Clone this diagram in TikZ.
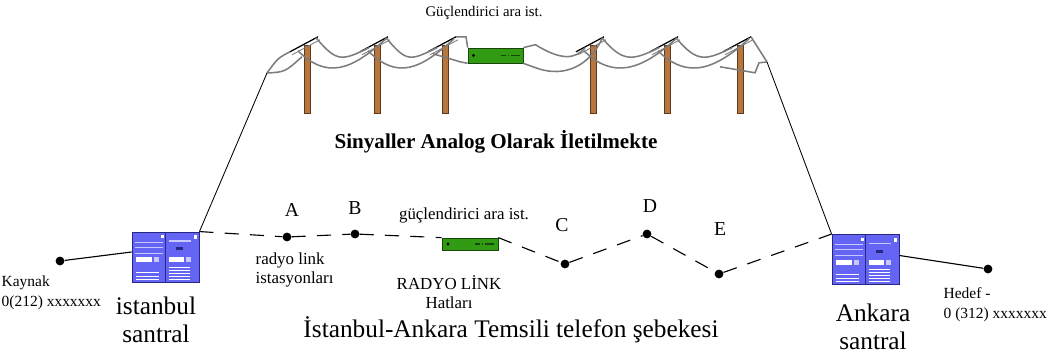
\documentclass[tikz,border=0pt]{standalone}
\usepackage{fontspec}
\setmainfont{Liberation Serif}
\usetikzlibrary{positioning,calc}
\definecolor{SantralMavi}{RGB}{100,100,245}
\definecolor{SantralKoyu}{RGB}{40,40,130}
\definecolor{SantralAcik}{RGB}{200,200,255}
\definecolor{KutuYesil}{RGB}{50,155,20}
\definecolor{KutuKoyu}{RGB}{25,70,10}
\definecolor{DirekKahve}{RGB}{182,118,62}
\definecolor{DirekKoyu}{RGB}{95,55,25}
\definecolor{TelGri}{RGB}{125,125,125}

\begin{document}
\begin{tikzpicture}[
  x=0.025cm, y=-0.025cm,
  every node/.style={align=center, inner sep=1pt},
  kucuk/.style={font=\fontsize{12}{14}\selectfont},
  uc/.style={font=\fontsize{11}{14}\selectfont, align=left, anchor=west},
  harf/.style={font=\fontsize{14}{16}\selectfont},
  buyuk/.style={font=\fontsize{18}{19.5}\selectfont},
  nokta/.style={circle, fill=black, inner sep=0pt, minimum size=0.22cm},
  santral/.style={rectangle, draw=SantralKoyu, fill=SantralMavi, line width=0.6pt,
    minimum width=1.675cm, minimum height=1.25cm, inner sep=0pt,
    path picture={
      \begin{scope}[shift={(path picture bounding box.center)}]
        \draw[SantralKoyu, line width=0.9pt] (0,-25) -- (0,25);
        % sol panel
        \foreach \v in {-15,-10,-4} \draw[SantralAcik, line width=0.5pt] (-31,\v) -- (-3,\v);
        \fill[white] (-30,0) rectangle (-14,5);
        \fill[SantralAcik] (-12,0) rectangle (-7,5);
        \foreach \v in {15,19,22} \draw[white, line width=0.6pt] (-30,\v) -- (-7,\v);
        \fill[white] (-5,-22) rectangle (-2,-19);
        % sag panel
        \draw[SantralAcik, line width=1pt] (3,-16) -- (25,-16);
        \fill[SantralKoyu] (10,-10) rectangle (17,-7);
        \fill[white] (3,0) rectangle (18,5);
        \fill[SantralAcik] (20,0) rectangle (25,5);
        \foreach \v in {10,13,16,19,22} \draw[white, line width=0.5pt] (3,\v) -- (24,\v);
        \fill[white] (28,-22) rectangle (31,-18);
      \end{scope}}},
  guc/.style={rectangle, draw=KutuKoyu, fill=KutuYesil, line width=0.5pt, inner sep=0pt,
    path picture={
      \begin{scope}[shift={(path picture bounding box.center)}]
        \fill[black] (-22,0) circle[radius=1.2pt];
        \draw[KutuKoyu, line width=1pt] (5,0) -- (10,0) (12,0) -- (13,0) (15,0) -- (24,0);
      \end{scope}}},
  direk/.style={rectangle, fill=DirekKahve, draw=DirekKoyu, line width=0.3pt,
    minimum width=0.15cm, minimum height=1.7cm, inner sep=0pt},
  tel/.style={draw=TelGri, line width=1.1pt},
  hat/.style={draw=black, line width=0.8pt},
  radyo/.style={hat, dash pattern=on 10pt off 8pt},
  ince/.style={draw=black, line width=0.6pt}
]
\useasboundingbox (0,0) rectangle (1049,354);

% direkler ve traversler
\foreach \px [count=\i] in {307,377,445,593,667,740}
  \node[direk] (d\i) at (\px,79) {};
\foreach \i in {1,...,6} {
  \draw[black, line width=0.9pt] ($(d\i.north)+(-17,7)$) -- ($(d\i.north)+(11,-8)$);
  \draw[TelGri, line width=0.6pt] ($(d\i.north)+(-15,10)$) -- ($(d\i.north)+(13,-5)$);
}

% havai hat
\node[guc, minimum width=1.375cm, minimum height=0.375cm] (gucust) at (495.5,55.5) {};
\coordinate (sol) at (267,73);
\coordinate (sag) at (767,62);
\foreach \a/\b in {1/2,2/3,4/5,5/6} {
  \draw[tel] ($(d\a.north)+(9,-7)$) .. controls ($(d\a.north)+(30,18)$) and ($(d\b.north)+(-35,16)$) .. ($(d\b.north)+(-8,3)$);
  \draw[tel] ($(d\a.north)+(-9,6)$) .. controls ($(d\a.north)+(20,35)$) and ($(d\b.north)+(-25,25)$) .. ($(d\b.north)+(9,-6)$);
}
\draw[tel] ($(d3.north)+(11,-8)$) -- ++(10,0) -- (gucust.north west);
\draw[tel] ($(d3.north)+(-12,9)$) -- ($(d3.north)+(15,17)$) -- (gucust.south west);
\draw[tel] (gucust.north east) -- ++(12,-3) .. controls (560,60) and (575,60) .. ($(d4.north)+(-8,3)$);
\draw[tel] (gucust.south east) -- ++(14,5) .. controls (565,78) and (590,65) .. ($(d4.north)+(9,-6)$);
\draw[tel] (sol) .. controls (278,58) .. ($(d1.north)+(-17,7)$);
\draw[tel] (sol) .. controls (285,72) .. ($(d1.north)+(-5,12)$);
\draw[tel] ($(d6.north)+(11,-8)$) -- (sag);
\draw[tel] ($(d6.north)+(-20,22)$) -- ($(d6.north)+(15,28)$) -- ($(d6.north)+(19,18)$) -- (sag);

\node (ustyazi) at (484,13) [font=\fontsize{10.5}{13}\selectfont] {Güçlendirici ara ist.};
\node (analog) at (496,142) [font=\bfseries\fontsize{15}{18}\selectfont] {Sinyaller Analog Olarak İletilmekte};

% santraller ve uclar
\node[santral] (ist) at (165.5,257) {};
\node[santral] (ank) at (865.5,259.5) {};
\node[nokta] (kaynak) at (60,261) {};
\node[nokta] (hedef) at (988,269) {};

% radyo link noktalari
\node[nokta] (ptA) at (287,237) {};
\node[nokta] (ptB) at (355,234) {};
\node[guc, minimum width=1.4cm, minimum height=0.3cm] (gucalt) at (470,244) {};
\node[nokta] (ptC) at (565,264) {};
\node[nokta] (ptD) at (647,234) {};
\node[nokta] (ptE) at (719,274) {};

\draw[hat] (kaynak) -- ([yshift=0.125cm]ist.west);
\draw[hat] ([yshift=0.1cm]ank.east) -- (hedef);
\draw[radyo] (ist.north east) -- (ptA) -- (ptB) -- (gucalt.north west);
\draw[radyo] (gucalt.north east) -- (ptC) -- (ptD) -- (ptE) -- (ank.north west);
\draw[ince] (ist.north east) -- (sol);
\draw[ince] (ank.north west) -- (sag);

% etiketler
\node[harf] (hA) at (292,210) {A};
\node[harf] (hB) at (355,208) {B};
\node[harf] (hC) at (562,225) {C};
\node[harf] (hD) at (650,206) {D};
\node[harf] (hE) at (720,229) {E};
\node[kucuk] (gucyazi) at (464,215) {güçlendirici ara ist.};
\node[kucuk, align=left, anchor=west] (istasyon) at (254,270) {radyo link\\istasyonları};
\node[kucuk] (hatlar) at (449,292) {RADYO LİNK\\Hatları};
\node[uc] (kaynakyazi) at (0,293) {Kaynak\\0(212) xxxxxxx};
\node[uc] (hedefyazi) at (942,305) {Hedef -\\0 (312) xxxxxxx};
\node[buyuk] (istyazi) at (156,320) {istanbul\\santral};
\node[buyuk] (ankyazi) at (873,327) {Ankara\\santral};
\node[buyuk] (baslik) at (511,330) {İstanbul-Ankara Temsili telefon şebekesi};
\end{tikzpicture}
\end{document}
